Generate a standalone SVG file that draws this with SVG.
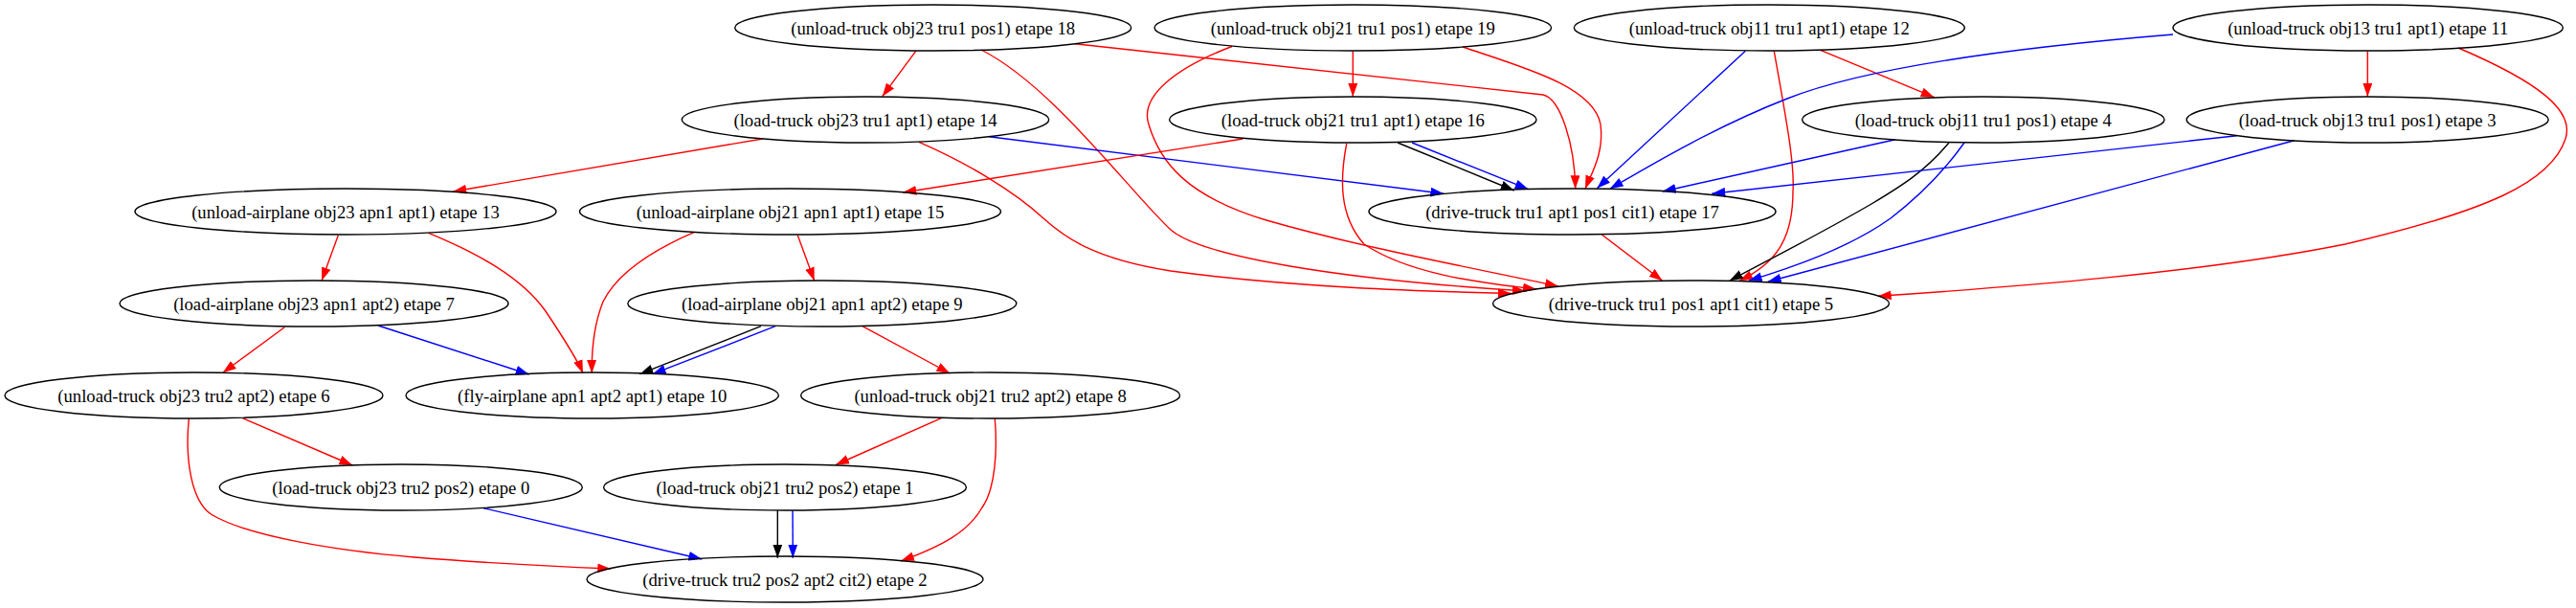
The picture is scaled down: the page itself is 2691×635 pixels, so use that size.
<svg xmlns="http://www.w3.org/2000/svg" width="2691" height="635" viewBox="0 0 2691 635">
<style>
.node ellipse{fill:none;stroke:#000;stroke-width:1.4}
.node text{font-family:"Liberation Serif","Times New Roman",serif;font-size:18.67px;text-anchor:middle;fill:#000}
.e{fill:none;stroke-width:1.4}
.r{stroke:#ff0000}
.b{stroke:#0000ff}
.k{stroke:#000000}
.r{marker-end:url(#ar)}
.b{marker-end:url(#ab)}
.k{marker-end:url(#ak)}
</style>
<defs>
<marker id="ar" markerUnits="userSpaceOnUse" markerWidth="14" markerHeight="10" viewBox="0 0 13.3 9.4" refX="13.3" refY="4.7" orient="auto"><path d="M0,0 L13.3,4.7 L0,9.4 z" fill="#ff0000"/></marker>
<marker id="ab" markerUnits="userSpaceOnUse" markerWidth="14" markerHeight="10" viewBox="0 0 13.3 9.4" refX="13.3" refY="4.7" orient="auto"><path d="M0,0 L13.3,4.7 L0,9.4 z" fill="#0000ff"/></marker>
<marker id="ak" markerUnits="userSpaceOnUse" markerWidth="14" markerHeight="10" viewBox="0 0 13.3 9.4" refX="13.3" refY="4.7" orient="auto"><path d="M0,0 L13.3,4.7 L0,9.4 z" fill="#000000"/></marker>
</defs>
<rect width="2691" height="635" fill="#fff"/>
<g id="edges">
<path class="e r" d="M956.7,53.3 L921.7,100.7"/>
<path class="e r" d="M1025,52 C1100,90 1180,200 1223,240 C1255,268 1400,292 1594,304"/>
<path class="e r" d="M1123,45.7 L1612,99 C1630,103 1645,150 1645.7,197.3"/>
<path class="e r" d="M1413.3,53.5 L1413.3,101"/>
<path class="e r" d="M1528,49 C1590,70 1665,90 1672,130 C1676,160 1662,182 1656,197.3"/>
<path class="e r" d="M1287,48.5 C1230,70 1190,100 1200,130 C1212,170 1240,205 1323,230 C1420,258 1530,278 1628,299"/>
<path class="e b" d="M1823.3,53.3 L1668.3,196.7"/>
<path class="e r" d="M1853.3,53.3 C1865,120 1875,170 1873,200 C1873,250 1855,275 1817,293.3"/>
<path class="e r" d="M1901.7,52.3 L2020.7,101.7"/>
<path class="e b" d="M2270,36 C2100,50 1950,70 1867,103 C1790,133 1720,175 1681.7,197.3"/>
<path class="e r" d="M2473.3,53.5 L2473.3,101"/>
<path class="e r" d="M2568,50 C2650,85 2690,115 2680,145 C2665,190 2600,220 2450,255 C2300,285 2100,300 1961.7,309.3"/>
<path class="e r" d="M796.7,145 L473.3,200"/>
<path class="e b" d="M1033.3,142.7 L1508.3,202.3"/>
<path class="e r" d="M960,148.3 C1010,170 1060,200 1090,228 C1110,246 1140,270 1223,283 C1350,300 1480,304 1579,306.5"/>
<path class="e r" d="M1298.3,145 L943.3,201"/>
<path class="e k" d="M1460,149 L1581.7,199"/>
<path class="e b" d="M1475,149 L1596.7,197.7"/>
<path class="e r" d="M1406.7,150 C1400,185 1398,225 1425,255 C1470,285 1540,295 1605,302"/>
<path class="e b" d="M1980,145.7 L1736.7,200"/>
<path class="e k" d="M2036,149 C2010,180 1985,195 1955,213 C1900,245 1850,270 1806.7,293.3"/>
<path class="e b" d="M2052,149 C2030,180 2005,205 1975,228 C1930,260 1870,280 1826.7,293.3"/>
<path class="e b" d="M2336.7,141.7 L1788.3,202.3"/>
<path class="e b" d="M2396.7,146.7 L1846.7,294.3"/>
<path class="e r" d="M1673.3,245 L1736.7,293.3"/>
<path class="e r" d="M353.3,245.7 L336,293.3"/>
<path class="e r" d="M447.8,243.3 C500,265 545,290 570,325 C590,355 603,375 609,390"/>
<path class="e r" d="M725,242.7 C680,262 645,285 630,315 C620,340 618,370 618.3,390"/>
<path class="e r" d="M833.3,245.7 L850.7,293.3"/>
<path class="e r" d="M297.3,341.7 L232.7,389.3"/>
<path class="e b" d="M395,340 L552.7,391"/>
<path class="e k" d="M795,340.7 L668.3,390.7"/>
<path class="e b" d="M810,340.7 L681.7,390.7"/>
<path class="e r" d="M900.9,340.7 L992.4,390"/>
<path class="e r" d="M253.3,436.7 L368.3,486"/>
<path class="e r" d="M197.3,437.3 C193,480 200,525 222,538 C260,560 350,575 433,582 C520,589 590,592 638.3,594"/>
<path class="e r" d="M983.5,436.7 L873,485.5"/>
<path class="e r" d="M1039.3,437.3 C1042,470 1040,510 1026,530 C1012,555 985,570 941,586"/>
<path class="e b" d="M505,530.7 L733.3,584"/>
<path class="e k" d="M812.3,533.3 L812.3,582.7"/>
<path class="e b" d="M828,533.3 L828.3,582.7"/>
</g>
<g id="n18" class="node"><ellipse cx="974.7" cy="29" rx="207" ry="24"/><text x="974.7" y="35.5">(unload-truck obj23 tru1 pos1) etape 18</text></g>
<g id="n19" class="node"><ellipse cx="1413.3" cy="29" rx="207.3" ry="24"/><text x="1413.3" y="35.5">(unload-truck obj21 tru1 pos1) etape 19</text></g>
<g id="n12" class="node"><ellipse cx="1848.3" cy="29" rx="204" ry="24"/><text x="1848.3" y="35.5">(unload-truck obj11 tru1 apt1) etape 12</text></g>
<g id="n11" class="node"><ellipse cx="2473.7" cy="29" rx="203.7" ry="24"/><text x="2473.7" y="35.5">(unload-truck obj13 tru1 apt1) etape 11</text></g>
<g id="n14" class="node"><ellipse cx="904" cy="125" rx="191.7" ry="24"/><text x="904" y="131.5">(load-truck obj23 tru1 apt1) etape 14</text></g>
<g id="n16" class="node"><ellipse cx="1413.3" cy="125" rx="191.7" ry="24"/><text x="1413.3" y="131.5">(load-truck obj21 tru1 apt1) etape 16</text></g>
<g id="n4" class="node"><ellipse cx="2071.8" cy="125" rx="189.2" ry="24"/><text x="2071.8" y="131.5">(load-truck obj11 tru1 pos1) etape 4</text></g>
<g id="n3" class="node"><ellipse cx="2473.2" cy="125" rx="189" ry="24"/><text x="2473.2" y="131.5">(load-truck obj13 tru1 pos1) etape 3</text></g>
<g id="n13" class="node"><ellipse cx="361" cy="221" rx="220" ry="24"/><text x="361" y="227.5">(unload-airplane obj23 apn1 apt1) etape 13</text></g>
<g id="n15" class="node"><ellipse cx="825.5" cy="221" rx="220" ry="24"/><text x="825.5" y="227.5">(unload-airplane obj21 apn1 apt1) etape 15</text></g>
<g id="n17" class="node"><ellipse cx="1642.5" cy="221" rx="212.5" ry="24"/><text x="1642.5" y="227.5">(drive-truck tru1 apt1 pos1 cit1) etape 17</text></g>
<g id="n7" class="node"><ellipse cx="328" cy="317" rx="203" ry="24"/><text x="328" y="323.5">(load-airplane obj23 apn1 apt2) etape 7</text></g>
<g id="n9" class="node"><ellipse cx="858.8" cy="317" rx="203" ry="24"/><text x="858.8" y="323.5">(load-airplane obj21 apn1 apt2) etape 9</text></g>
<g id="n5" class="node"><ellipse cx="1766.5" cy="317" rx="207" ry="24"/><text x="1766.5" y="323.5">(drive-truck tru1 pos1 apt1 cit1) etape 5</text></g>
<g id="n6" class="node"><ellipse cx="202.5" cy="413" rx="197.5" ry="24"/><text x="202.5" y="419.5">(unload-truck obj23 tru2 apt2) etape 6</text></g>
<g id="n10" class="node"><ellipse cx="618.7" cy="413" rx="194.7" ry="24"/><text x="618.7" y="419.5">(fly-airplane apn1 apt2 apt1) etape 10</text></g>
<g id="n8" class="node"><ellipse cx="1034.6" cy="413" rx="198" ry="24"/><text x="1034.6" y="419.5">(unload-truck obj21 tru2 apt2) etape 8</text></g>
<g id="n0" class="node"><ellipse cx="418.8" cy="509" rx="189.5" ry="24"/><text x="418.8" y="515.5">(load-truck obj23 tru2 pos2) etape 0</text></g>
<g id="n1" class="node"><ellipse cx="820" cy="509" rx="189.4" ry="24"/><text x="820" y="515.5">(load-truck obj21 tru2 pos2) etape 1</text></g>
<g id="n2" class="node"><ellipse cx="820" cy="605" rx="207" ry="24"/><text x="820" y="611.5">(drive-truck tru2 pos2 apt2 cit2) etape 2</text></g>
</svg>
